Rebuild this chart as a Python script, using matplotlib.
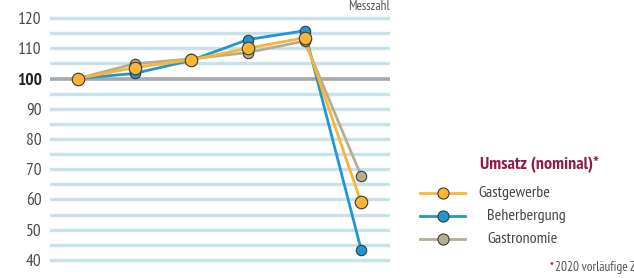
import matplotlib.pyplot as plt
from matplotlib import font_manager

names = {f.name for f in font_manager.fontManager.ttflist}
narrow = next((n for n in ['PT Sans Narrow', 'Open Sans Condensed', 'Roboto Condensed']
               if n in names), 'DejaVu Sans')

years = [0, 1, 2, 3, 4, 5]
gastgewerbe = [100, 103.6, 106.2, 110.0, 113.5, 59.0]
beherbergung = [100, 101.7, 106.0, 112.9, 115.8, 43.4]
gastronomie = [100, 104.9, 106.5, 108.6, 112.4, 67.8]
yticks = [40, 50, 60, 70, 80, 90, 100, 110, 120]

c_orange = '#fbb534'
c_blue = '#1f97d0'
c_tan = '#b6ae90'
c_grid = '#c9e1ea'
c_wine = '#8e1b4f'

plt.rcParams['font.family'] = [narrow, 'DejaVu Sans']

fig = plt.figure(figsize=(6.34, 2.78), dpi=100)
ax = fig.add_axes([50 / 634, 1 - 269 / 278, 340 / 634, 260 / 278])
ax.set_xlim(-0.495, 5.51)
ax.set_ylim(37, 123)

# horizontal grid every 5, the 100 base line in grey
for v in range(40, 125, 5):
    if v == 100:
        ax.axhline(v, color='#a7a9ad', lw=2.6, zorder=1)
    else:
        ax.axhline(v, color=c_grid, lw=2.4, zorder=1)

series = [(gastronomie, c_tan), (beherbergung, c_blue), (gastgewerbe, c_orange)]
for vals, col in series:
    ax.plot(years, vals, color=col, lw=2, zorder=2)
for vals, col in series:
    ax.plot(years, vals, 'o', ms=9 if col == c_orange else 7.5, mfc=col,
            mec='#3a3a3a', mew=0.8, zorder=3)

ax.set_yticks(yticks)
ax.set_yticklabels([str(t) for t in yticks], fontsize=12.5, color='#4a4a4a')
for lab in ax.get_yticklabels():
    if lab.get_text() == '100':
        lab.set_fontweight('bold')
        lab.set_color('#222222')
ax.tick_params(axis='y', length=0, pad=6)
ax.set_xticks([])
for s in ax.spines.values():
    s.set_visible(False)

fig.text(390 / 634, 1 - 7 / 278, 'Messzahl', ha='right', va='center',
         fontsize=9.5, color='#555555')

# legend
fig.text(480 / 634, 1 - 165 / 278, 'Umsatz (nominal)*', ha='left', va='center',
         fontsize=13, fontweight='bold', color=c_wine)
leg = [('Gastgewerbe', c_orange, 193, 478), ('Beherbergung', c_blue, 216, 487),
       ('Gastronomie', c_tan, 239, 487)]
for name, col, yp, xt in leg:
    y = 1 - yp / 278
    fig.add_artist(plt.Line2D([420 / 634, 465 / 634], [y, y], color=col, lw=2))
    fig.add_artist(plt.Line2D([443 / 634], [y], marker='o', ms=8, mfc=col,
                              mec='#3a3a3a', mew=0.8))
    fig.text(xt / 634, y, name, ha='left', va='center', fontsize=11.5, color='#444444')

# footnote runs past the right edge as in the original
fig.text(550 / 634, 1 - 267 / 278, '*', ha='left', va='center', fontsize=9.5, color=c_wine)
fig.text(555 / 634, 1 - 267 / 278, '2020 vorläufige Zahlen', ha='left', va='center',
         fontsize=9.5, color='#555555')

fig.savefig('out.png', dpi=100)
